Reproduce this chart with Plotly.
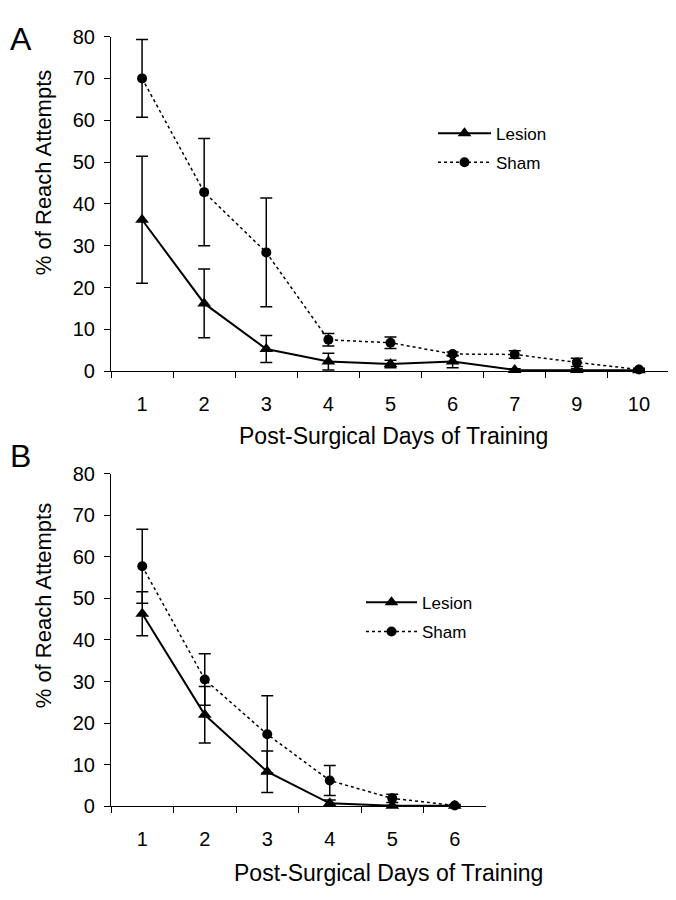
import plotly.graph_objects as go

# panel A
dias_a = ["1", "2", "3", "4", "5", "6", "7", "9", "10"]
lesion_a = [36.2, 16.2, 5.3, 2.3, 1.7, 2.3, 0.3, 0.3, 0.2]
lesion_a_err = [15.2, 8.2, 3.2, 2.0, 0.9, 1.5, 0.3, 0.3, 0.2]
sham_a = [70.0, 42.8, 28.4, 7.5, 6.8, 4.1, 4.0, 2.1, 0.4]
sham_a_err = [9.3, 12.8, 13.0, 1.5, 1.4, 0.5, 0.9, 1.0, 0.3]

# panel B
dias_b = ["1", "2", "3", "4", "5", "6"]
lesion_b = [46.3, 22.0, 8.3, 0.7, 0.1, 0.1]
lesion_b_err = [5.3, 6.8, 5.0, 0.8, 0.1, 0.1]
sham_b = [57.7, 30.5, 17.3, 6.2, 1.9, 0.2]
sham_b_err = [8.9, 6.2, 9.3, 3.6, 1.0, 0.2]

fuente = "Liberation Sans, Arial, sans-serif"
W, H = 676, 900
# la pagina html deja 8px de margen en el body
off = 8

fig = go.Figure()


def serie(x, y, err, nombre, eje_x, eje_y, leyenda, lesion):
    if lesion:
        linea = dict(color="black", width=2)
        marca = dict(symbol="triangle-up", size=12, color="black")
    else:
        linea = dict(color="black", width=1.5, dash="dot")
        marca = dict(symbol="circle", size=10, color="black")
    fig.add_trace(go.Scatter(
        x=x, y=y, name=nombre, mode="lines+markers",
        line=linea, marker=marca, cliponaxis=False,
        error_y=dict(type="data", array=err, visible=True,
                     color="black", thickness=1.5, width=6),
        xaxis=eje_x, yaxis=eje_y, legend=leyenda,
        legendgroup=leyenda + nombre,
    ))


serie(dias_a, lesion_a, lesion_a_err, "Lesion", "x", "y", "legend", True)
serie(dias_a, sham_a, sham_a_err, "Sham", "x", "y", "legend", False)
serie(dias_b, lesion_b, lesion_b_err, "Lesion", "x2", "y2", "legend2", True)
serie(dias_b, sham_b, sham_b_err, "Sham", "x2", "y2", "legend2", False)

# posiciones en pixeles del area de cada panel (tal como se ven)
ax_izq = 111 - off
a_der, a_arr, a_abj = 670 - off, 26 - off, 369 - off
b_der, b_arr, b_abj = 486 - off, 474 - off, 815 - off

eje_x = dict(
    type="category", showline=True, linecolor="black", linewidth=1.2,
    ticks="outside", ticklen=6, tickcolor="black", tickson="boundaries",
    showgrid=False, zeroline=False, ticklabelstandoff=15,
    tickfont=dict(family=fuente, size=20, color="black"),
)
eje_y = dict(
    range=[0, 80], dtick=10, showline=True, linecolor="black", linewidth=1.2,
    ticks="outside", ticklen=6, tickcolor="black", showgrid=False,
    zeroline=False, ticklabelstandoff=5,
    tickfont=dict(family=fuente, size=20, color="black"),
)

fig.update_layout(
    width=W, height=H, margin=dict(l=0, r=0, t=0, b=0),
    paper_bgcolor="white", plot_bgcolor="white",
    font=dict(family=fuente, color="black"),
    xaxis=dict(eje_x, domain=[ax_izq / W, a_der / W], range=[-0.5, 8.5],
               anchor="y"),
    yaxis=dict(eje_y, domain=[1 - a_abj / H, 1 - a_arr / H], anchor="x"),
    xaxis2=dict(eje_x, domain=[ax_izq / W, b_der / W], range=[-0.5, 5.5],
                anchor="y2"),
    yaxis2=dict(eje_y, domain=[1 - b_abj / H, 1 - b_arr / H], anchor="x2"),
    legend=dict(x=(433 - off) / W, y=1 - (107 - off) / H, xanchor="left",
                yanchor="top", bgcolor="rgba(0,0,0,0)", itemwidth=53,
                font=dict(family=fuente, size=17), tracegroupgap=4),
    legend2=dict(x=(361 - off) / W, y=1 - (588 - off) / H, xanchor="left",
                 yanchor="top", bgcolor="rgba(0,0,0,0)", itemwidth=51,
                 font=dict(family=fuente, size=17), tracegroupgap=4),
)

# letras de los paneles, pegadas al borde
fig.add_annotation(text="A", x=0, y=1, xref="paper", yref="paper",
                   xanchor="left", yanchor="top", showarrow=False,
                   font=dict(family=fuente, size=32, color="black"))
fig.add_annotation(text="B", x=0, y=1 - (456 - off) / H, xref="paper",
                   yref="paper", xanchor="left", yanchor="middle",
                   showarrow=False,
                   font=dict(family=fuente, size=32, color="black"))

textos = [
    ("% of Reach Attempts", 43, 166, 22, -90),
    ("% of Reach Attempts", 43, 610, 22, -90),
    ("Post-Surgical Days of Training", 393, 435, 23, 0),
    ("Post-Surgical Days of Training", 388, 883, 23, 0),
]
for t, px, py, tam, ang in textos:
    fig.add_annotation(
        text=t, x=(px - off) / W, y=1 - (py - off) / H,
        xref="paper", yref="paper",
        xanchor="center", yanchor="middle", showarrow=False,
        textangle=ang, font=dict(family=fuente, size=tam, color="black"),
    )

fig.write_html("out.html")
